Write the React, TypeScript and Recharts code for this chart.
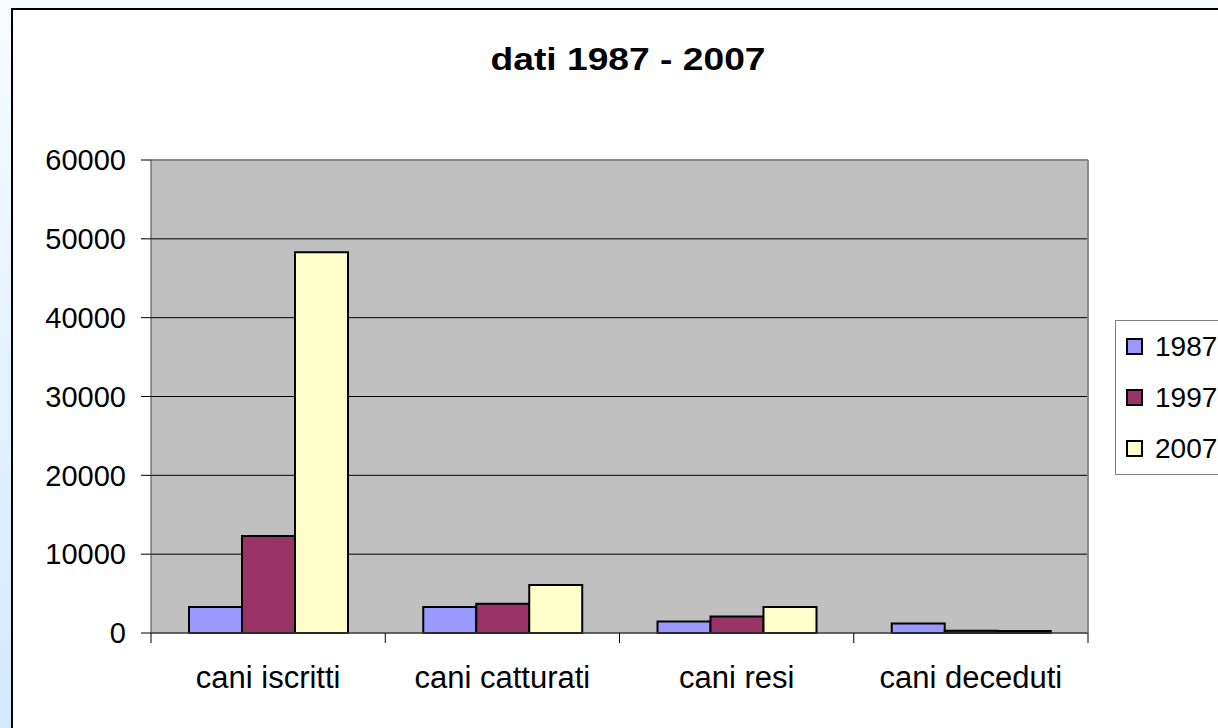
import React from "react";
import { BarChart, Bar, XAxis, YAxis, CartesianGrid } from "recharts";

const categories = ["cani iscritti", "cani catturati", "cani resi", "cani deceduti"];
const seriesNames = ["1987", "1997", "2007"];
const values1987 = [3300, 3300, 1450, 1200];
const values1997 = [12300, 3700, 2100, 300];
const values2007 = [48300, 6100, 3300, 250];
const yTicks = [0, 10000, 20000, 30000, 40000, 50000, 60000];
const title = "dati 1987 - 2007";

const colors = ["#9999FF", "#993366", "#FFFFCC"];
const FONT = '"Liberation Sans", Arial, Helvetica, sans-serif';

const data = categories.map((c, i) => ({
  name: c,
  [seriesNames[0]]: values1987[i],
  [seriesNames[1]]: values1997[i],
  [seriesNames[2]]: values2007[i],
}));

const XTick = (props: any) => {
  const { x, y, payload, width, visibleTicksCount, index } = props;
  const half = width / visibleTicksCount / 2;
  const last = index === visibleTicksCount - 1;
  return (
    <g>
      <line x1={x - half} y1={y} x2={x - half} y2={y + 10} stroke="#000" strokeWidth={1} />
      {last && <line x1={x + half} y1={y} x2={x + half} y2={y + 10} stroke="#000" strokeWidth={1} />}
      <text x={x} y={y + 55} textAnchor="middle" fontFamily={FONT} fontSize={31} fill="#000">
        {payload.value}
      </text>
    </g>
  );
};

const LegendBox = () => (
  <div
    style={{
      position: "absolute",
      left: 1115,
      top: 320,
      border: "1px solid #808080",
      background: "#fff",
      padding: "0 10px",
      fontFamily: FONT,
      fontSize: 28,
      width: 200,
    }}
  >
    {seriesNames.map((n, i) => (
      <div key={n} style={{ height: 51, display: "flex", alignItems: "center" }}>
        <span
          style={{
            width: 13,
            height: 13,
            border: "2px solid #000",
            background: colors[i],
            display: "inline-block",
            marginRight: 12,
          }}
        />
        <span style={{ lineHeight: "51px" }}>{n}</span>
      </div>
    ))}
  </div>
);

export default function App() {
  return (
    <div
      style={{
        position: "fixed",
        left: 0,
        top: 0,
        width: 1218,
        height: 728,
        overflow: "hidden",
        background: "linear-gradient(to bottom, #f7fbff 0%, #d2e9fd 100%)",
      }}
    >
      <div
        style={{
          position: "absolute",
          left: 11,
          top: 8,
          width: 1300,
          height: 800,
          border: "2px solid #000",
          background: "#fff",
        }}
      />
      <div
        style={{
          position: "absolute",
          left: 0,
          top: 44,
          width: 1256,
          textAlign: "center",
          fontFamily: FONT,
          fontWeight: "bold",
          fontSize: 31,
          lineHeight: "31px",
          transform: "scaleX(1.2)",
          transformOrigin: "628px 0",
          color: "#000",
        }}
      >
        {title}
      </div>
      <div style={{ position: "absolute", left: 0, top: 0 }}>
        <BarChart
          width={1300}
          height={728}
          data={data}
          margin={{ top: 160, right: 212, bottom: 35, left: 0 }}
          barCategoryGap={38}
          barGap={0}
        >
          <CartesianGrid vertical={false} stroke="#000" fill="#c0c0c0" fillOpacity={1} yAxisId="left" />
          <CartesianGrid
            fill="none"
            stroke="#888"
            strokeWidth={2}
            horizontalCoordinatesGenerator={({ offset }: any) => [offset.top]}
            verticalCoordinatesGenerator={({ offset }: any) => [offset.left + offset.width]}
          />
          <XAxis
            dataKey="name"
            height={60}
            tickSize={0}
            tickLine={false}
            tickMargin={0}
            axisLine={{ stroke: "#555", strokeWidth: 1 }}
            tick={<XTick />}
            interval={0}
          />
          <YAxis
            yAxisId="left"
            width={151}
            domain={[0, 60000]}
            ticks={yTicks}
            tickSize={10}
            tickMargin={15}
            axisLine={{ stroke: "#444", strokeWidth: 1 }}
            tickLine={{ stroke: "#000" }}
            tick={{ fontFamily: FONT, fontSize: 29, fill: "#000" }}
            interval={0}
          />
          {seriesNames.map((n, i) => (
            <Bar
              key={n}
              dataKey={n}
              yAxisId="left"
              fill={colors[i]}
              stroke="#000"
              strokeWidth={2}
              isAnimationActive={false}
            />
          ))}
        </BarChart>
      </div>
      <LegendBox />
    </div>
  );
}
